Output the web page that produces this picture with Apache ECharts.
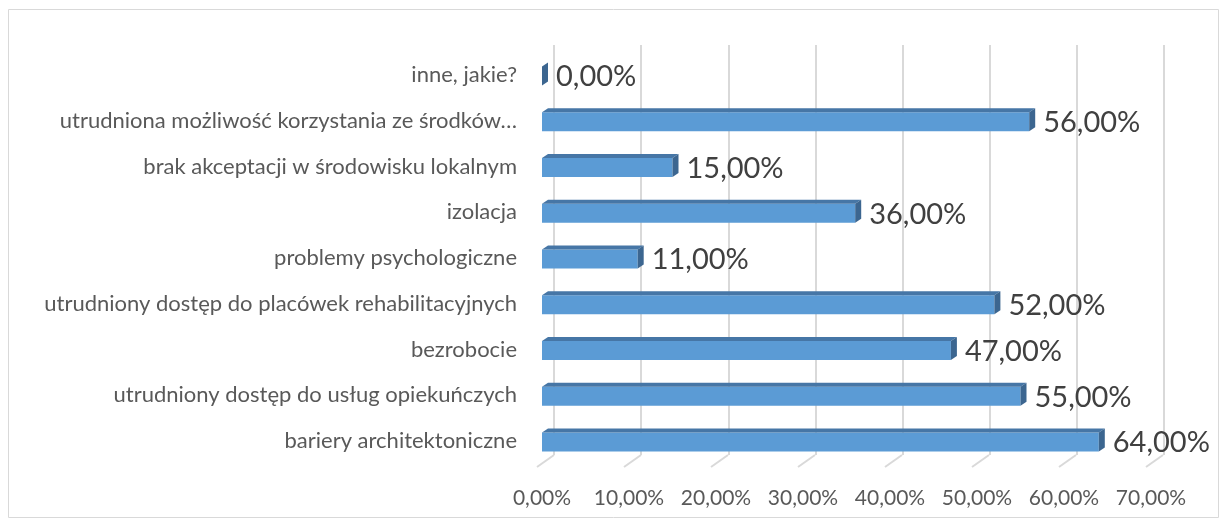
<!DOCTYPE html>
<html>
<head>
<meta charset="utf-8">
<script src="https://cdn.jsdelivr.net/npm/echarts@6/dist/echarts.min.js"></script>
<style>
  html, body { margin: 0; padding: 0; background: #fff; }
  #chart { width: 1227px; height: 526px; }
</style>
</head>
<body>
<div id="chart"></div>
<script>
// kategorie od dołu do góry (jak w osi kategorii ECharts)
const categories = [
  'bariery architektoniczne',
  'utrudniony dostęp do usług opiekuńczych',
  'bezrobocie',
  'utrudniony dostęp do placówek rehabilitacyjnych',
  'problemy psychologiczne',
  'izolacja',
  'brak akceptacji w środowisku lokalnym',
  'utrudniona możliwość korzystania ze środków…',
  'inne, jakie?'
];
const values = [64, 55, 47, 52, 11, 36, 15, 56, 0];
const ticks = [0, 10, 20, 30, 40, 50, 60, 70];

const fmt = v => v.toFixed(2).replace('.', ',') + '%';

const FONT = 'Lato, "Open Sans", sans-serif';
const DEPTH_X = 6, DEPTH_Y = 4, BAR_H = 19;

const chart = echarts.init(document.getElementById('chart'));

function renderBar(params, api) {
  const idx = api.value(0);
  const val = api.value(1);
  const p0 = api.coord([0, idx]);
  const p1 = api.coord([val, idx]);
  const x0 = p0[0], x1 = p1[0];
  const yc = p0[1] + 1;
  const yT = yc - BAR_H / 2, yB = yc + BAR_H / 2;
  const children = [];
  if (x1 - x0 > 0.5) {
    children.push({
      type: 'rect',
      shape: { x: x0, y: yT, width: x1 - x0, height: BAR_H },
      style: { fill: '#5b9bd5' }
    });
    children.push({
      type: 'polygon',
      shape: { points: [[x0, yT], [x0 + DEPTH_X, yT - DEPTH_Y], [x1 + DEPTH_X, yT - DEPTH_Y], [x1, yT]] },
      style: { fill: '#4676a6' }
    });
  }
  children.push({
    type: 'polygon',
    shape: { points: [[x1, yT], [x1 + DEPTH_X, yT - DEPTH_Y], [x1 + DEPTH_X, yB - DEPTH_Y], [x1, yB]] },
    style: { fill: '#3c6690' }
  });
  children.push({
    type: 'text',
    style: {
      text: fmt(val),
      x: x1 + DEPTH_X + 8,
      y: yc + 1,
      verticalAlign: 'middle',
      fill: '#404040',
      font: '29px ' + FONT
    }
  });
  return { type: 'group', children: children };
}

function renderFloor(params, api) {
  const v = api.value(0);
  const p = api.coord([v, 0]);
  const bottom = params.coordSys.y + params.coordSys.height;
  return {
    type: 'line',
    shape: { x1: p[0] - 5, y1: bottom + 3, x2: p[0] + 12, y2: bottom - 9 },
    style: { stroke: '#d9d9d9', lineWidth: 2 }
  };
}

chart.setOption({
  animation: false,
  textStyle: { fontFamily: FONT },
  graphic: [{
    type: 'rect',
    shape: { x: 8.5, y: 9.5, width: 1210, height: 508 },
    style: { fill: 'none', stroke: '#d9d9d9', lineWidth: 1 },
    z: -10
  }],
  grid: [
    { left: 542, width: 609, top: 52, bottom: 62 },
    { left: 554, width: 610, top: 45, bottom: 71 }
  ],
  xAxis: [
    {
      type: 'value', gridIndex: 0, min: 0, max: 70, interval: 10,
      axisLine: { show: false }, axisTick: { show: false }, splitLine: { show: false },
      axisLabel: { margin: 24, fontSize: 21, color: '#595959', fontFamily: FONT, formatter: v => fmt(v) }
    },
    {
      type: 'value', gridIndex: 1, min: 0, max: 70, interval: 10,
      axisLine: { show: false }, axisTick: { show: false }, axisLabel: { show: false },
      splitLine: { show: true, lineStyle: { color: '#d9d9d9', width: 2 } }
    }
  ],
  yAxis: [
    {
      type: 'category', gridIndex: 0, data: categories,
      axisLine: { show: false }, axisTick: { show: false },
      axisLabel: { margin: 25, fontSize: 22, color: '#595959', fontFamily: FONT }
    },
    { type: 'value', gridIndex: 1, show: false, min: 0, max: 1 }
  ],
  series: [
    {
      type: 'custom', xAxisIndex: 0, yAxisIndex: 0,
      renderItem: renderFloor, clip: false, z: 1,
      data: ticks.map(t => [t])
    },
    {
      type: 'custom', xAxisIndex: 0, yAxisIndex: 0,
      renderItem: renderBar, clip: false, z: 5,
      encode: { x: 1, y: 0 },
      data: values.map((v, i) => [i, v])
    }
  ]
});
</script>
</body>
</html>
